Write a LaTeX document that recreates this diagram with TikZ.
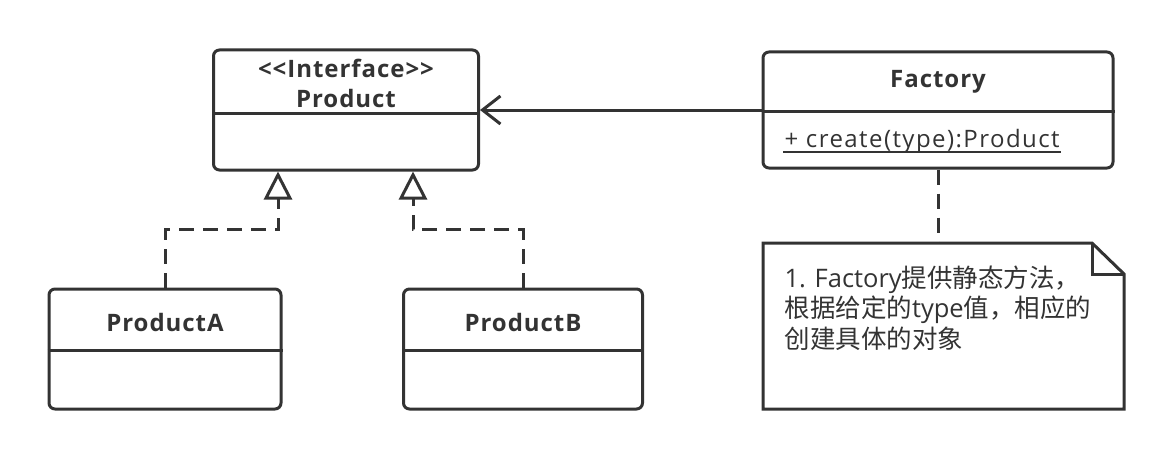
\documentclass[tikz,border=0pt]{standalone}
\usepackage{fontspec}
\setmainfont{Open Sans}
\newfontfamily\cjk{Noto Sans CJK SC}
\usetikzlibrary{arrows.meta, positioning, calc}
\definecolor{umlgray}{HTML}{333333}

\begin{document}
\begin{tikzpicture}[x=1pt,y=-1pt,line width=3pt,color=umlgray,font=\fontsize{24}{30}\selectfont,
    classbox/.style={rectangle, draw, rounded corners=6pt},
    classname/.style={font=\fontsize{24}{30}\selectfont\bfseries\addfontfeatures{LetterSpace=4}, align=center},
    realize/.style={dash pattern=on 15pt off 9pt, -{Triangle[open,length=28pt,width=28pt,fill=white]}}]
  \useasboundingbox (0,0) rectangle (1174,460);

  % interface and factory
  \node (product) [classbox, minimum width=265pt, minimum height=120pt] at (346,110) {};
  \node (productname) [classname] at (346,83) {<{}<Interface>{}>\\Product};
  \draw (product.west |- 0,113) -- (product.east |- 0,113);

  \node (factory) [classbox, minimum width=350pt, minimum height=116pt] at (938,110) {};
  \node (factoryname) [classname] at (938,82) {Factory};
  \draw (factory.west |- 0,111) -- (factory.east |- 0,111);
  \node (create) [anchor=base west, inner sep=0pt, font=\fontsize{24}{30}\selectfont\addfontfeatures{LetterSpace=6}] at (783,147) {+ create(type):Product};
  \draw[line width=1.5pt] ([yshift=-5pt]create.base west) -- ([yshift=-5pt]create.base east);

  \draw[-{Straight Barb[length=18pt,width=28pt]}] (factory) -- (product);

  % concrete products
  \node (producta) [classbox, minimum width=232pt, minimum height=120pt] at (165,349) {};
  \node (productaname) [classname] at (165,322) {ProductA};
  \draw (producta.west |- 0,350) -- (producta.east |- 0,350);

  \node (productb) [classbox, minimum width=239pt, minimum height=120pt] at (523,349) {};
  \node (productbname) [classname] at (523,322) {ProductB};
  \draw (productb.west |- 0,350) -- (productb.east |- 0,350);

  \coordinate (ra) at ($(product.south)+(-68,0)$);
  \coordinate (rb) at ($(product.south)+(67,0)$);
  \draw[realize] (producta.north) -- ++(0,-58) -| (ra);
  \draw[realize] (productb.north) -- ++(0,-58) -| (rb);

  % note
  \node (note) [minimum width=361pt, minimum height=166pt, inner sep=0pt, outer sep=0pt] at (943.5,326) {};
  \draw ($(note.north east)+(-32,0)$) -- (note.north west) -- (note.south west) -- (note.south east) -- ($(note.north east)+(0,31)$) -- cycle;
  \draw ($(note.north east)+(-32,0)$) |- ($(note.north east)+(0,31)$);
  \node (notetext) [anchor=north west, align=left, inner sep=0pt, font=\fontsize{25.5}{30.5}\selectfont] at (783,264)
    {1. Factory{\cjk 提供静态方法，}\\{\cjk 根据给定的}type{\cjk 值，相应的}\\{\cjk 创建具体的对象}};

  \draw[dash pattern=on 15pt off 9pt] (factory) -- (factory |- note.north);
\end{tikzpicture}
\end{document}
